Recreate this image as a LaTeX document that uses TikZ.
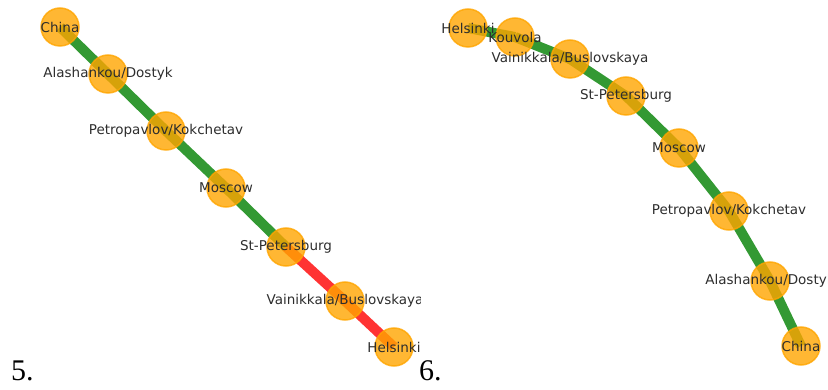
\documentclass[tikz,border=0pt]{standalone}
\usepackage{fontspec}
\setmainfont{Liberation Serif}
\newfontfamily\labfont{DejaVu Sans}
\definecolor{ngreen}{RGB}{0,128,0}
\definecolor{nred}{RGB}{255,0,0}
\definecolor{norange}{RGB}{255,165,0}
\definecolor{ntext}{RGB}{45,45,45}
\tikzset{
  stn/.style={circle, minimum size=38pt, inner sep=0pt, fill=norange, draw=norange, line width=1.5pt, opacity=0.8},
  lab/.style={font=\labfont\fontsize{13.5}{15}\selectfont, text=ntext, inner sep=0pt, anchor=center},
  gline/.style={draw=ngreen, line width=10pt, opacity=0.8},
  rline/.style={draw=nred, line width=10pt, opacity=0.8},
  panel/.style={font=\fontsize{30}{34}\selectfont, inner sep=0pt, anchor=base west}
}
\begin{document}
\begin{tikzpicture}[x=1pt,y=-1pt]
\useasboundingbox (0,0) rectangle (828,390);
% ---------- panel 5 ----------
\begin{scope}
\clip (0,0) rectangle (420,390);
\coordinate (a1) at (60,27);
\coordinate (a2) at (108,74);
\coordinate (a3) at (166,131);
\coordinate (a4) at (226,188);
\coordinate (a5) at (286,247);
\coordinate (a6) at (345,301);
\coordinate (a7) at (394,347);
\draw[gline] (a1) -- (a2);
\draw[gline] (a2) -- (a3);
\draw[gline] (a3) -- (a4);
\draw[gline] (a4) -- (a5);
\draw[rline] (a5) -- (a6);
\draw[rline] (a6) -- (a7);
\foreach \n in {a1,a2,a3,a4,a5,a6,a7} \node[stn] (n\n) at (\n) {};
\node[lab] (la1) at (a1) {China};
\node[lab] (la2) at (a2) {Alashankou/Dostyk};
\node[lab] (la3) at (a3) {Petropavlov/Kokchetav};
\node[lab] (la4) at (a4) {Moscow};
\node[lab] (la5) at (a5) {St-Petersburg};
\node[lab] (la6) at (a6) {Vainikkala/Buslovskaya};
\node[lab] (la7) at (a7) {Helsinki};
\end{scope}
\node[panel] (p5) at (11,380) {5.};
% ---------- panel 6 ----------
\begin{scope}
\clip (420,0) rectangle (828,390);
\coordinate (b1) at (468,28);
\coordinate (b2) at (515,37);
\coordinate (b3) at (570,59);
\coordinate (b4) at (626,96);
\coordinate (b5) at (679,148);
\coordinate (b6) at (729,211);
\coordinate (b7) at (770,281);
\coordinate (b8) at (801,346);
\draw[gline] (b1) -- (b2);
\draw[gline] (b2) -- (b3);
\draw[gline] (b3) -- (b4);
\draw[gline] (b4) -- (b5);
\draw[gline] (b5) -- (b6);
\draw[gline] (b6) -- (b7);
\draw[gline] (b7) -- (b8);
\foreach \n in {b1,b2,b3,b4,b5,b6,b7,b8} \node[stn] (n\n) at (\n) {};
\node[lab] (lb1) at (b1) {Helsinki};
\node[lab] (lb2) at (b2) {Kouvola};
\node[lab] (lb3) at (b3) {Vainikkala/Buslovskaya};
\node[lab] (lb4) at (b4) {St-Petersburg};
\node[lab] (lb5) at (b5) {Moscow};
\node[lab] (lb6) at (b6) {Petropavlov/Kokchetav};
\node[lab] (lb7) at (b7) {Alashankou/Dostyk};
\node[lab] (lb8) at (b8) {China};
\end{scope}
\node[panel] (p6) at (419,380) {6.};
\end{tikzpicture}
\end{document}
